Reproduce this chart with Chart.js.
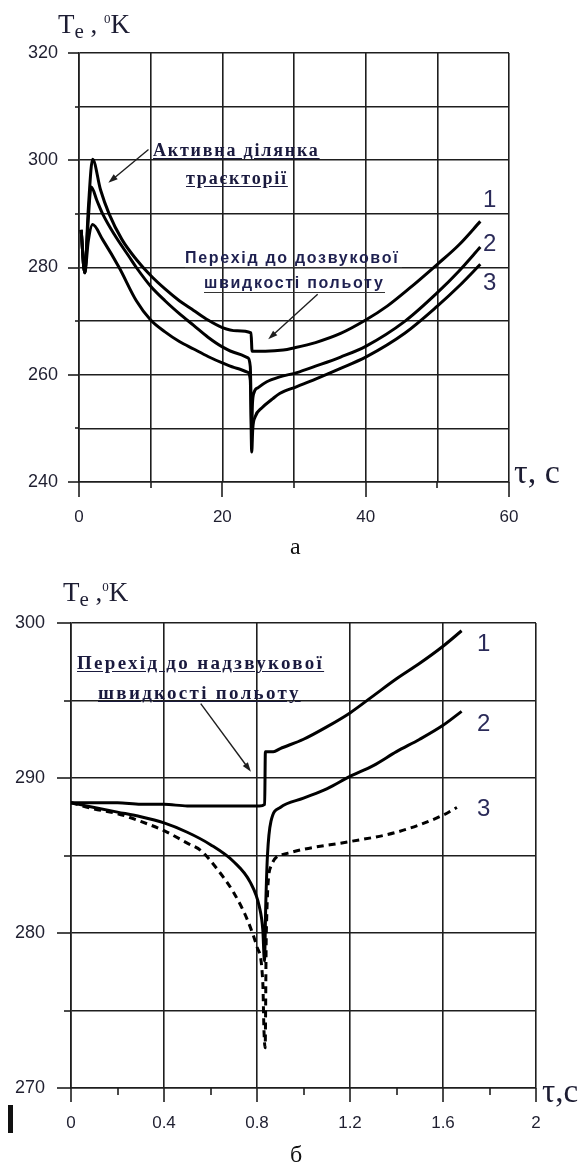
<!DOCTYPE html>
<html lang="uk">
<head>
<meta charset="utf-8">
<title>Te(τ)</title>
<script src="https://cdn.jsdelivr.net/npm/chart.js@4.4.1/dist/chart.umd.min.js"></script>
<style>
  html, body { margin: 0; padding: 0; background: #fff; }
  body { position: relative; width: 586px; height: 1165px; overflow: hidden; }
  canvas { position: absolute; left: 0; }
  #chartA { top: 0; }
  #chartB { top: 560px; }
  .t { position: absolute; white-space: nowrap; color: #1d1d33; line-height: 1; }
  .serif { font-family: "Liberation Serif", "Times New Roman", serif; }
  .sans { font-family: "Liberation Sans", Arial, sans-serif; }
  .ytitle { font-size: 27px; }
  .ytitle sub { font-size: 21px; vertical-align: -5px; }
  .ytitle sup { font-size: 13px; vertical-align: 10px; }
  .note-a { font-weight: bold; font-size: 18px; letter-spacing: 1.8px; text-decoration: underline; text-underline-offset: 2px; color: #1a1a3e; }
  .note-s { font-size: 16px; font-weight: bold; letter-spacing: 1.7px; color: #1e2050; border-bottom: 1.5px solid #333; padding-bottom: 1px; }
  .num { font-size: 24px; color: #2a2a58; }
  .cap { font-size: 24px; color: #111; }
  #bar { position: absolute; left: 8px; top: 1105px; width: 5px; height: 28px; background: #111; }
</style>
</head>
<body>
<canvas id="chartA" width="586" height="540"></canvas>
<canvas id="chartB" width="586" height="605"></canvas>

<!-- підписи до рис. а -->
<div class="t serif ytitle" style="left:58px;top:11px">T<sub>e</sub> , <sup>0</sup>K</div>
<div class="t serif" style="left:514px;top:455px;font-size:34px">τ, с</div>
<div class="t serif note-a" style="left:153px;top:141px">Активна ділянка</div>
<div class="t serif note-a" style="left:186px;top:169px">траєкторії</div>
<div class="t sans note-s" style="left:185px;top:250px;padding-right:3px">Перехід до дозвукової</div>
<div class="t sans note-s" style="left:204px;top:275px">швидкості польоту</div>
<div class="t sans num" style="left:483px;top:187px">1</div>
<div class="t sans num" style="left:483px;top:231px">2</div>
<div class="t sans num" style="left:483px;top:270px">3</div>
<div class="t serif cap" style="left:290px;top:534px">а</div>

<!-- підписи до рис. б -->
<div class="t serif ytitle" style="left:63px;top:579px">T<sub>e</sub> ,<sup>0</sup>K</div>
<div class="t serif" style="left:542px;top:1075px;font-size:33px">τ,с</div>
<div class="t serif note-a" style="left:77px;top:653px;font-size:19px;letter-spacing:2.3px">Перехід до надзвукової</div>
<div class="t serif note-a" style="left:98px;top:683px;font-size:19px;letter-spacing:2.3px">швидкості польоту</div>
<div class="t sans num" style="left:477px;top:631px">1</div>
<div class="t sans num" style="left:477px;top:711px">2</div>
<div class="t sans num" style="left:477px;top:796px">3</div>
<div class="t serif cap" style="left:290px;top:1142px">б</div>
<div id="bar"></div>

<script>
// а) політ з активною ділянкою траєкторії, τ до 56 с
const timeA1 = [0.3, 0.8, 1.3, 1.9, 3, 4.2, 6, 8, 10, 12, 14, 16, 18, 20, 22, 24, 24.15, 26, 28.5, 30, 33, 36.5, 40, 43, 46, 50, 53, 56];
const tempA1 = [287, 279, 291, 300.2, 294.5, 290, 285.2, 281.5, 278.5, 276, 273.8, 272, 270.2, 268.8, 268.2, 267.8, 264.4, 264.4, 264.6, 265, 266, 267.7, 270.2, 272.8, 276, 280.6, 284.2, 288.6];

const timeA2 = [0.3, 0.8, 1.2, 1.7, 2.5, 3.3, 5, 7, 8, 10, 12, 14, 16, 18, 20, 22, 23.5, 23.9, 24.1, 24.2, 24.4, 25, 26.2, 28, 30.4, 33, 36.5, 40, 45.5, 50, 53, 56];
const tempA2 = [287, 279, 287, 295, 292.5, 290, 286, 282, 280, 276.5, 273.8, 271.4, 269.2, 267, 265.2, 264, 263.2, 261.5, 250, 254.5, 256.6, 257.6, 258.7, 259.6, 260.4, 261.6, 263.3, 265.3, 270, 275.3, 279.3, 283.8];

const timeA3 = [0.3, 0.8, 1.3, 1.9, 3.3, 5.6, 8, 10, 12, 14, 16, 18, 20, 22, 23.5, 23.9, 24.1, 24.25, 24.6, 25.5, 27, 28, 30.4, 33, 36.5, 40, 45.5, 50, 53, 56];
const tempA3 = [287, 279, 285, 288, 285.2, 280, 273.8, 270.2, 268, 266.2, 264.8, 263.4, 262.2, 261.2, 260.5, 259, 245.6, 250, 252.2, 253.8, 255.5, 256.5, 257.8, 259.2, 261.2, 263.3, 267.8, 272.8, 276.5, 280.6];

const yLabelsA = [240, 260, 280, 300, 320];
const xLabelsA = [0, 20, 40, 60];

// б) перехід до надзвукової швидкості, τ до 1.68 с
const timeB1 = [0, 0.1, 0.2, 0.3, 0.4, 0.5, 0.6, 0.7, 0.81, 0.833, 0.836, 0.87, 0.9, 1.0, 1.1, 1.2, 1.3, 1.4, 1.5, 1.6, 1.68];
const tempB1 = [288.4, 288.4, 288.4, 288.3, 288.3, 288.2, 288.2, 288.2, 288.2, 288.3, 291.7, 291.7, 291.9, 292.5, 293.3, 294.2, 295.3, 296.4, 297.4, 298.5, 299.5];

const timeB2 = [0, 0.1, 0.2, 0.3, 0.4, 0.5, 0.6, 0.7, 0.77, 0.81, 0.825, 0.832, 0.838, 0.845, 0.86, 0.9, 1.0, 1.1, 1.2, 1.3, 1.4, 1.5, 1.6, 1.68];
const tempB2 = [288.4, 288.1, 287.8, 287.5, 287.1, 286.5, 285.7, 284.6, 283.3, 281.7, 280.2, 278.2, 282, 285, 287.2, 288.1, 288.7, 289.3, 290.1, 290.8, 291.7, 292.5, 293.4, 294.3];

const timeB3 = [0, 0.1, 0.2, 0.3, 0.4, 0.5, 0.56, 0.63, 0.7, 0.76, 0.8, 0.825, 0.83, 0.835, 0.84, 0.86, 0.92, 1.0, 1.2, 1.4, 1.6, 1.66];
const tempB3 = [288.4, 288, 287.7, 287.2, 286.6, 285.8, 285.3, 284.1, 282.6, 280.8, 279.1, 276.8, 273.7, 272.6, 280, 284.3, 285.1, 285.4, 285.9, 286.5, 287.6, 288.1];

const yLabelsB = [270, 280, 290, 300];
const xLabelsB = ['0', '0.4', '0.8', '1.2', '1.6', '2'];

const INK = '#1e1e1e';
Chart.defaults.font.family = '"Liberation Sans", Arial, sans-serif';
Chart.defaults.color = '#1f1f30';

const toPoints = (xs, ys) => xs.map((x, i) => ({ x: x, y: ys[i] }));
const isLabeled = (list, v) => list.some(l => Math.abs(Number(l) - v) < 1e-6);

// зовнішні риски осей (довгі біля підписаних значень) і стрілки-виноски
const outerTicks = {
  id: 'outerTicks',
  afterDraw(chart, args, opts) {
    const ctx = chart.ctx;
    const area = chart.chartArea;
    const sx = chart.scales.x, sy = chart.scales.y;
    ctx.save();
    ctx.strokeStyle = INK;
    ctx.lineWidth = 1.6;
    sy.ticks.forEach((t, i) => {
      const py = Math.round(sy.getPixelForTick(i));
      const len = t.label !== '' ? opts.yMajor : opts.yMinor;
      ctx.beginPath();
      ctx.moveTo(area.left - len, py);
      ctx.lineTo(area.left, py);
      ctx.stroke();
    });
    sx.ticks.forEach((t, i) => {
      const px = Math.round(sx.getPixelForTick(i));
      const len = t.label !== '' ? opts.xMajor : opts.xMinor;
      ctx.beginPath();
      ctx.moveTo(px, area.bottom);
      ctx.lineTo(px, area.bottom + len);
      ctx.stroke();
    });
    ctx.lineWidth = 1.4;
    ctx.fillStyle = INK;
    (opts.arrows || []).forEach(a => {
      const x0 = sx.getPixelForValue(a.from[0]), y0 = sy.getPixelForValue(a.from[1]);
      const x1 = sx.getPixelForValue(a.to[0]), y1 = sy.getPixelForValue(a.to[1]);
      const ang = Math.atan2(y1 - y0, x1 - x0);
      ctx.beginPath();
      ctx.moveTo(x0, y0);
      ctx.lineTo(x1 - 6 * Math.cos(ang), y1 - 6 * Math.sin(ang));
      ctx.stroke();
      ctx.beginPath();
      ctx.moveTo(x1, y1);
      ctx.lineTo(x1 - 10 * Math.cos(ang - 0.32), y1 - 10 * Math.sin(ang - 0.32));
      ctx.lineTo(x1 - 10 * Math.cos(ang + 0.32), y1 - 10 * Math.sin(ang + 0.32));
      ctx.closePath();
      ctx.fill();
    });
    ctx.restore();
  }
};

function curve(xs, ys, dashed) {
  return {
    data: toPoints(xs, ys),
    borderColor: '#000',
    borderWidth: 3,
    borderDash: dashed ? [7, 5] : [],
    pointRadius: 0,
    fill: false,
    cubicInterpolationMode: 'monotone'
  };
}

function makeChart(id, cfg) {
  return new Chart(document.getElementById(id), {
    type: 'line',
    data: { datasets: cfg.datasets },
    plugins: [outerTicks],
    options: {
      responsive: false,
      animation: false,
      events: [],
      layout: { padding: cfg.padding },
      plugins: {
        legend: { display: false },
        tooltip: { enabled: false },
        outerTicks: cfg.ticks
      },
      scales: {
        x: {
          type: 'linear',
          min: cfg.x.min, max: cfg.x.max,
          afterFit(s) { s.height = cfg.x.height; },
          border: { display: true, color: INK, width: 1.6 },
          grid: {
            drawTicks: false,
            lineWidth: 1.6,
            color: c => (cfg.x.everyLine || isLabeled(cfg.x.labels, c.tick.value)) ? INK : 'rgba(0,0,0,0)'
          },
          ticks: {
            stepSize: cfg.x.step,
            padding: cfg.x.pad,
            maxRotation: 0,
            autoSkip: false,
            font: { size: 17 },
            callback: v => {
              const hit = cfg.x.labels.find(l => Math.abs(Number(l) - v) < 1e-6);
              return hit === undefined ? '' : String(hit);
            }
          }
        },
        y: {
          min: cfg.y.min, max: cfg.y.max,
          afterFit(s) { s.width = cfg.y.width; },
          border: { display: true, color: INK, width: 1.6 },
          grid: { drawTicks: false, lineWidth: 1.6, color: INK },
          ticks: {
            stepSize: cfg.y.step,
            padding: cfg.y.pad,
            autoSkip: false,
            font: { size: 18 },
            callback: v => isLabeled(cfg.y.labels, v) ? String(v) : ''
          }
        }
      }
    }
  });
}

makeChart('chartA', {
  datasets: [curve(timeA1, tempA1), curve(timeA2, tempA2), curve(timeA3, tempA3)],
  padding: { top: 53, right: 77, bottom: 18, left: 0 },
  x: { min: 0, max: 60, step: 10, labels: xLabelsA, everyLine: true, height: 40, pad: 25 },
  y: { min: 240, max: 320, step: 10, labels: yLabelsA, width: 79, pad: 21 },
  ticks: {
    yMajor: 11, yMinor: 4, xMajor: 15, xMinor: 6,
    arrows: [
      { from: [9.7, 302], to: [4.1, 295.8] },
      { from: [33.3, 275], to: [26.4, 266.6] }
    ]
  }
});

makeChart('chartB', {
  datasets: [curve(timeB1, tempB1), curve(timeB2, tempB2), curve(timeB3, tempB3, true)],
  padding: { top: 63, right: 50, bottom: 32, left: 0 },
  x: { min: 0, max: 2, step: 0.2, labels: xLabelsB, everyLine: false, height: 45, pad: 25 },
  y: { min: 270, max: 300, step: 5, labels: yLabelsB, width: 71, pad: 26 },
  ticks: {
    yMajor: 14, yMinor: 7, xMajor: 14, xMinor: 7,
    arrows: [
      { from: [0.558, 294.8], to: [0.774, 290.4] }
    ]
  }
});
</script>
</body>
</html>
